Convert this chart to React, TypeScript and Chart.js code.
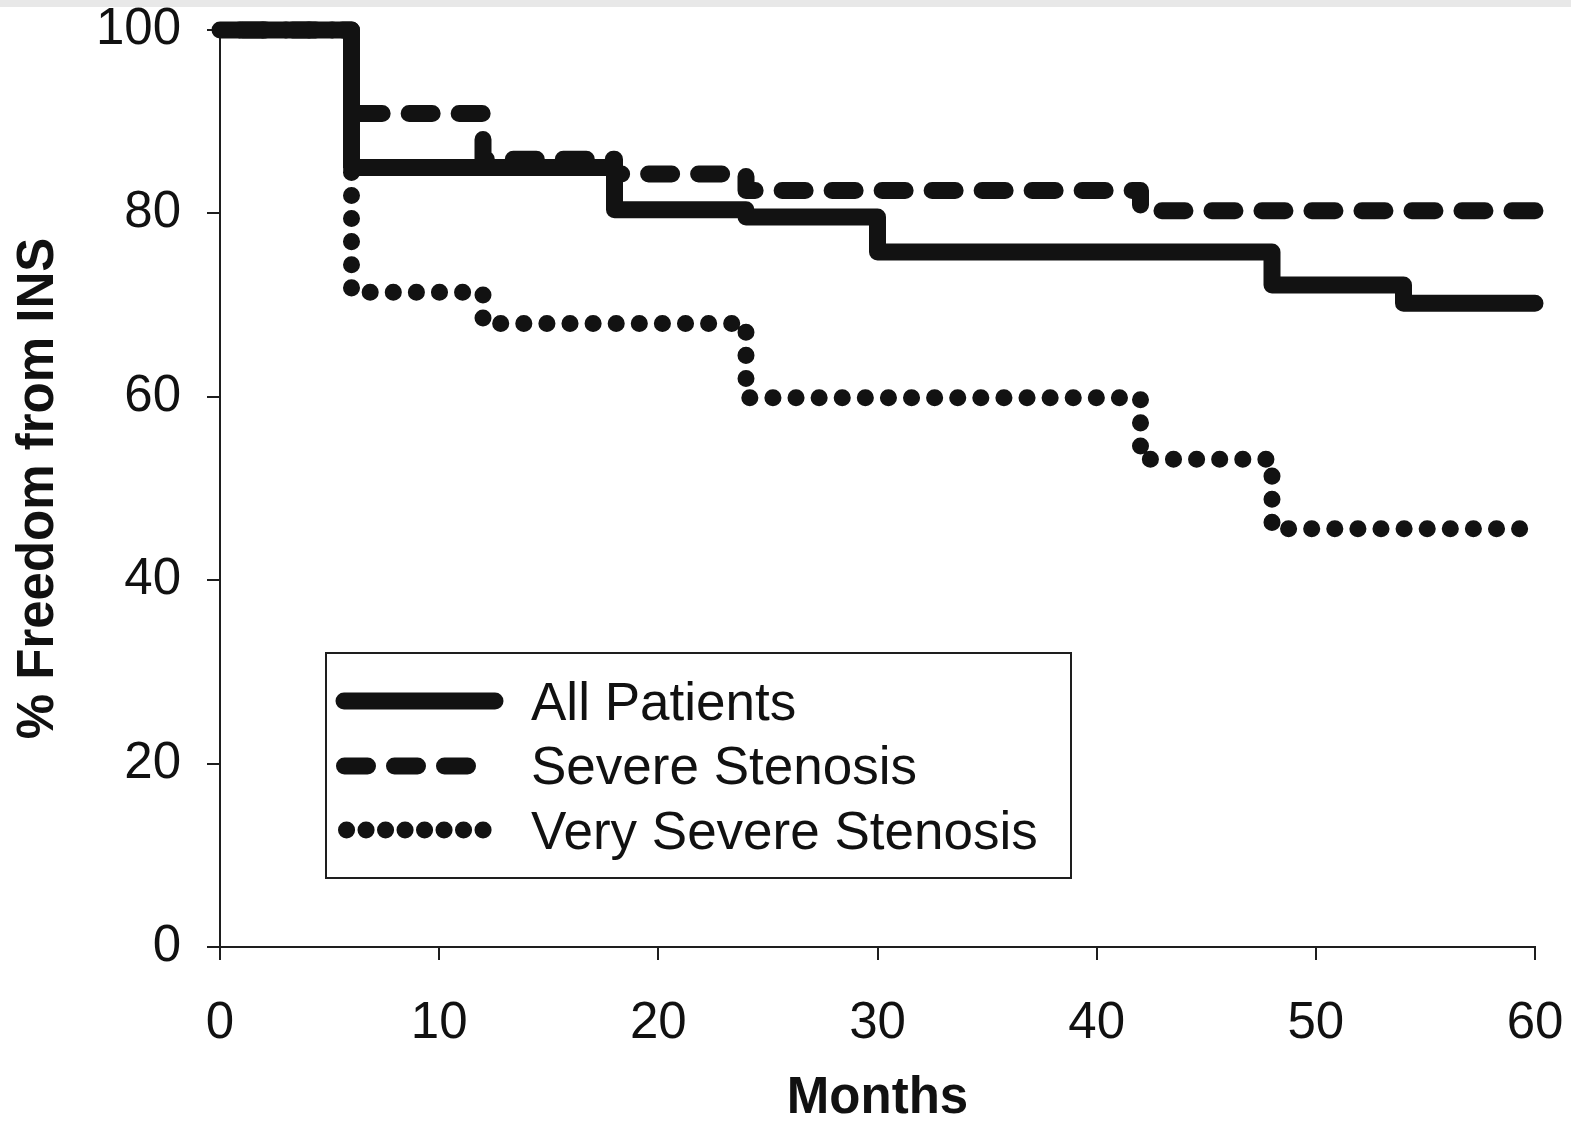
import React, { useEffect, useRef } from "react";
import { Chart, registerables } from "chart.js";

Chart.register(...registerables);

const FONT = '"Liberation Sans", Arial, Helvetica, sans-serif';

// Axis ticks
const xTicks = [0, 10, 20, 30, 40, 50, 60];
const yTicks = [0, 20, 40, 60, 80, 100];

// Series labels
const seriesLabels = ["All Patients", "Severe Stenosis", "Very Severe Stenosis"];

// All Patients (solid)
const allMonths = [0, 6, 18, 24, 30, 48, 54, 60];
const allValues = [100, 85, 80.4, 79.6, 75.8, 72.2, 70.2, 70.2];

// Severe Stenosis (dashed)
const severeMonths = [0, 6, 12, 18, 24, 42, 60];
const severeValues = [100, 90.9, 85.9, 84.3, 82.5, 80.3, 80.3];

// Very Severe Stenosis (dotted)
const verySevereMonths = [0, 6, 12, 24, 42, 48, 59.3];
const verySevereValues = [100, 71.4, 68.0, 59.9, 53.2, 45.6, 45.6];

const toPoints = (xs: number[], ys: number[]) => xs.map((x, i) => ({ x, y: ys[i] }));

const LINE_COLOR = "#121212";
const AXIS_COLOR = "#1e1e1e";

const paperPlugin = {
  id: "paper",
  beforeDraw(chart: any) {
    const { ctx, width, height } = chart;
    ctx.save();
    ctx.fillStyle = "#ffffff";
    ctx.fillRect(0, 0, width, height);
    ctx.fillStyle = "#e8e8e8";
    ctx.fillRect(0, 0, width, 7);
    ctx.restore();
  },
};

const legendBoxPlugin = {
  id: "legendBox",
  afterDraw(chart: any) {
    const ctx = chart.ctx;
    ctx.save();
    ctx.strokeStyle = AXIS_COLOR;
    ctx.lineWidth = 2;
    ctx.setLineDash([]);
    ctx.strokeRect(326, 653, 745, 225);
    const rows = [701, 766, 830];
    const baselines = [720, 784, 849];
    const spans = [
      [344, 495],
      [344.5, 467.5],
      [346.5, 486],
    ];
    const dashes = [[], [23, 27], [0.1, 19.4]];
    chart.data.datasets.forEach((ds: any, i: number) => {
      ctx.beginPath();
      ctx.setLineDash(dashes[i]);
      ctx.lineCap = "round";
      ctx.lineWidth = ds.borderWidth;
      ctx.strokeStyle = ds.borderColor;
      ctx.moveTo(spans[i][0], rows[i]);
      ctx.lineTo(spans[i][1], rows[i]);
      ctx.stroke();
      ctx.setLineDash([]);
      ctx.fillStyle = "#111";
      ctx.font = `53px ${FONT}`;
      ctx.textBaseline = "alphabetic";
      ctx.textAlign = "left";
      ctx.fillText(ds.label, 531, baselines[i]);
    });
    ctx.restore();
  },
};

const zeroPad = (s: any) => {
  s.paddingTop = 0;
  s.paddingBottom = 0;
  s.paddingLeft = 0;
  s.paddingRight = 0;
};

export default function App() {
  const canvasRef = useRef<HTMLCanvasElement | null>(null);

  useEffect(() => {
    if (!canvasRef.current) return;
    const common = {
      borderColor: LINE_COLOR,
      borderWidth: 17,
      borderCapStyle: "round",
      borderJoinStyle: "round",
      pointRadius: 0,
      fill: false,
      stepped: "before",
      clip: false,
    };
    const chart = new Chart(canvasRef.current, {
      type: "line",
      data: {
        datasets: [
          { ...common, label: seriesLabels[0], data: toPoints(allMonths, allValues), borderDash: [] },
          {
            ...common,
            label: seriesLabels[1],
            data: toPoints(severeMonths, severeValues),
            borderDash: [23, 27],
            borderDashOffset: 27.4,
          },
          {
            ...common,
            label: seriesLabels[2],
            data: toPoints(verySevereMonths, verySevereValues),
            borderDash: [0.1, 23],
            borderDashOffset: 3.4,
          },
        ] as any,
      },
      options: {
        animation: false,
        responsive: false,
        devicePixelRatio: 1,
        layout: { padding: { left: 0, right: 36, top: 30, bottom: 0 } },
        plugins: { legend: { display: false }, tooltip: { enabled: false } },
        scales: {
          x: {
            type: "linear",
            min: 0,
            max: 60,
            afterBuildTicks: (s: any) => {
              s.ticks = xTicks.map((v) => ({ value: v }));
            },
            afterFit: (s: any) => {
              s.height = 183;
              zeroPad(s);
            },
            grid: { drawOnChartArea: false, drawTicks: true, tickLength: 13, lineWidth: 2, color: AXIS_COLOR },
            border: { display: true, color: AXIS_COLOR, width: 2 },
            ticks: { font: { family: FONT, size: 51 }, color: "#111", padding: 33, maxRotation: 0, autoSkip: false },
            title: {
              display: true,
              text: "Months",
              font: { family: FONT, size: 51, weight: "bold" },
              color: "#111",
              padding: { top: 0, bottom: 0 },
            },
          },
          y: {
            type: "linear",
            min: 0,
            max: 100,
            afterBuildTicks: (s: any) => {
              s.ticks = yTicks.map((v) => ({ value: v }));
            },
            afterFit: (s: any) => {
              s.width = 220;
              zeroPad(s);
            },
            grid: { drawOnChartArea: false, drawTicks: true, tickLength: 13, lineWidth: 2, color: AXIS_COLOR },
            border: { display: true, color: AXIS_COLOR, width: 2 },
            ticks: { font: { family: FONT, size: 51 }, color: "#111", padding: 26, autoSkip: false },
            title: {
              display: true,
              text: "% Freedom from INS",
              font: { family: FONT, size: 51, weight: "bold" },
              color: "#111",
              padding: { top: 8, bottom: 0 },
            },
          },
        },
      } as any,
      plugins: [paperPlugin, legendBoxPlugin],
    });
    return () => chart.destroy();
  }, []);

  return (
    <div style={{ position: "absolute", left: 0, top: 0, width: 1571, height: 1130, background: "#fff" }}>
      <canvas ref={canvasRef} width={1571} height={1130} style={{ width: 1571, height: 1130, display: "block" }} />
    </div>
  );
}
